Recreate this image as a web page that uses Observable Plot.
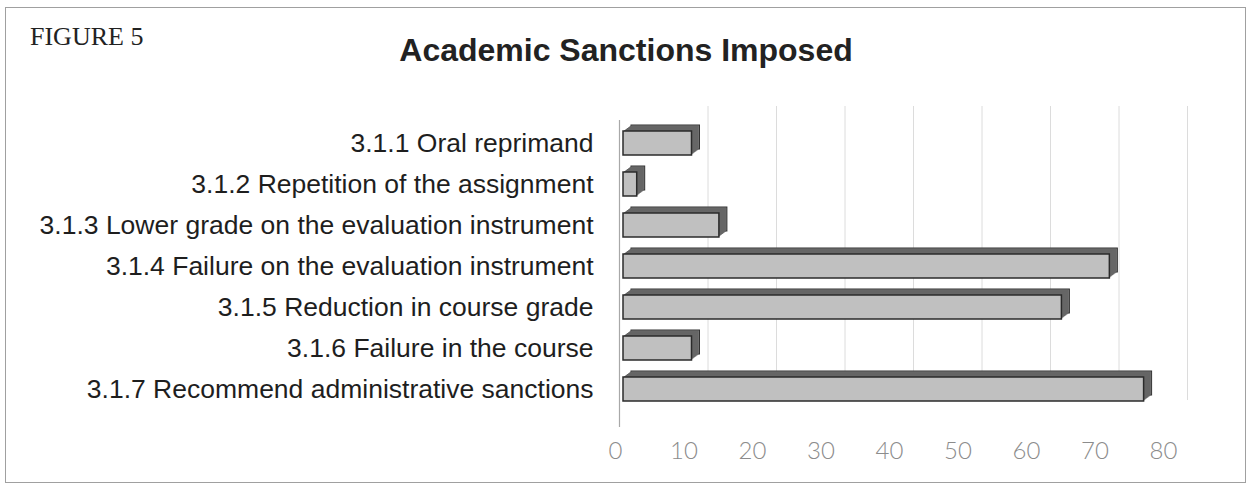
<!DOCTYPE html>
<html>
<head>
<meta charset="utf-8">
<script src="https://cdn.jsdelivr.net/npm/d3@7"></script>
<script src="https://cdn.jsdelivr.net/npm/@observablehq/plot@0.6"></script>
<style>
  body { margin: 0; background: #fff; }
  #page { position: relative; width: 1251px; height: 492px; background: #fff; overflow: hidden; }
  #border { position: absolute; left: 5px; top: 7px; width: 1239px; height: 474px; border: 1.5px solid #a0a0a0; }
  #fig { position: absolute; left: 30px; top: 24px; font: 26px "Liberation Serif", "Times New Roman", serif; line-height: 1; color: #222; }
  #title { position: absolute; left: 0; width: 1252px; top: 34px; text-align: center; font: bold 32px "Liberation Sans", Arial, sans-serif; line-height: 1; color: #222; }
  #chart { position: absolute; left: 0; top: 95px; }
</style>
</head>
<body>
<div id="page">
  <div id="border"></div>
  <div id="fig">FIGURE 5</div>
  <div id="title">Academic Sanctions Imposed</div>
  <div id="chart"></div>
</div>
<script>
const categories = [
  "3.1.1 Oral reprimand",
  "3.1.2 Repetition of the assignment",
  "3.1.3 Lower grade on the evaluation instrument",
  "3.1.4 Failure on the evaluation instrument",
  "3.1.5 Reduction in course grade",
  "3.1.6 Failure in the course",
  "3.1.7 Recommend administrative sanctions"
];
const counts = [10, 2, 14, 71, 64, 10, 76];
const xTicks = [0, 10, 20, 30, 40, 50, 60, 70, 80];

const data = categories.map((c, i) => ({label: c, value: counts[i]}));

// 3D extrusion layers (drawn back to front)
const depth = [8, 7, 6, 5, 4, 3, 2, 1];
const depthMarks = depth.map(i => Plot.barX(data, {
  x: "value", y: "label", dx: i, dy: -0.75 * i,
  fill: i === 8 ? "#7a7a7a" : "#666666",
  stroke: i === 8 ? "#333333" : "none", strokeWidth: 1
}));

const chart = Plot.plot({
  width: 1251,
  height: 385,
  marginLeft: 623,
  marginRight: 80,
  marginTop: 15,
  marginBottom: 59,
  style: {fontFamily: "'Liberation Sans', Arial, sans-serif", background: "transparent", overflow: "visible"},
  x: {domain: [0, 80]},
  y: {domain: categories, padding: 0.426},
  marks: [
    Plot.ruleX(xTicks.slice(1), {dx: 16, dy: -4, insetBottom: 17, stroke: "#dcdcdc", strokeWidth: 1}),
    Plot.ruleX([0], {dx: -4, insetTop: 10, insetBottom: -6, stroke: "#a8a8a8", strokeWidth: 1.2}),
    ...depthMarks,
    Plot.barX(data, {x: "value", y: "label", fill: "#c0c0c0", stroke: "#2b2b2b", strokeWidth: 1.5}),
    Plot.axisY({tickSize: 0, tickPadding: 30, fontSize: 26.5, fill: "#1e1e1e", dy: 0, label: null}),
    Plot.axisX(xTicks, {tickSize: 0, tickPadding: 20, fontSize: 24, fill: "#8c8c8c", dx: -8, label: null,
      fontFamily: "Lato", fontWeight: 300})
  ]
});
document.getElementById("chart").appendChild(chart);
</script>
</body>
</html>
